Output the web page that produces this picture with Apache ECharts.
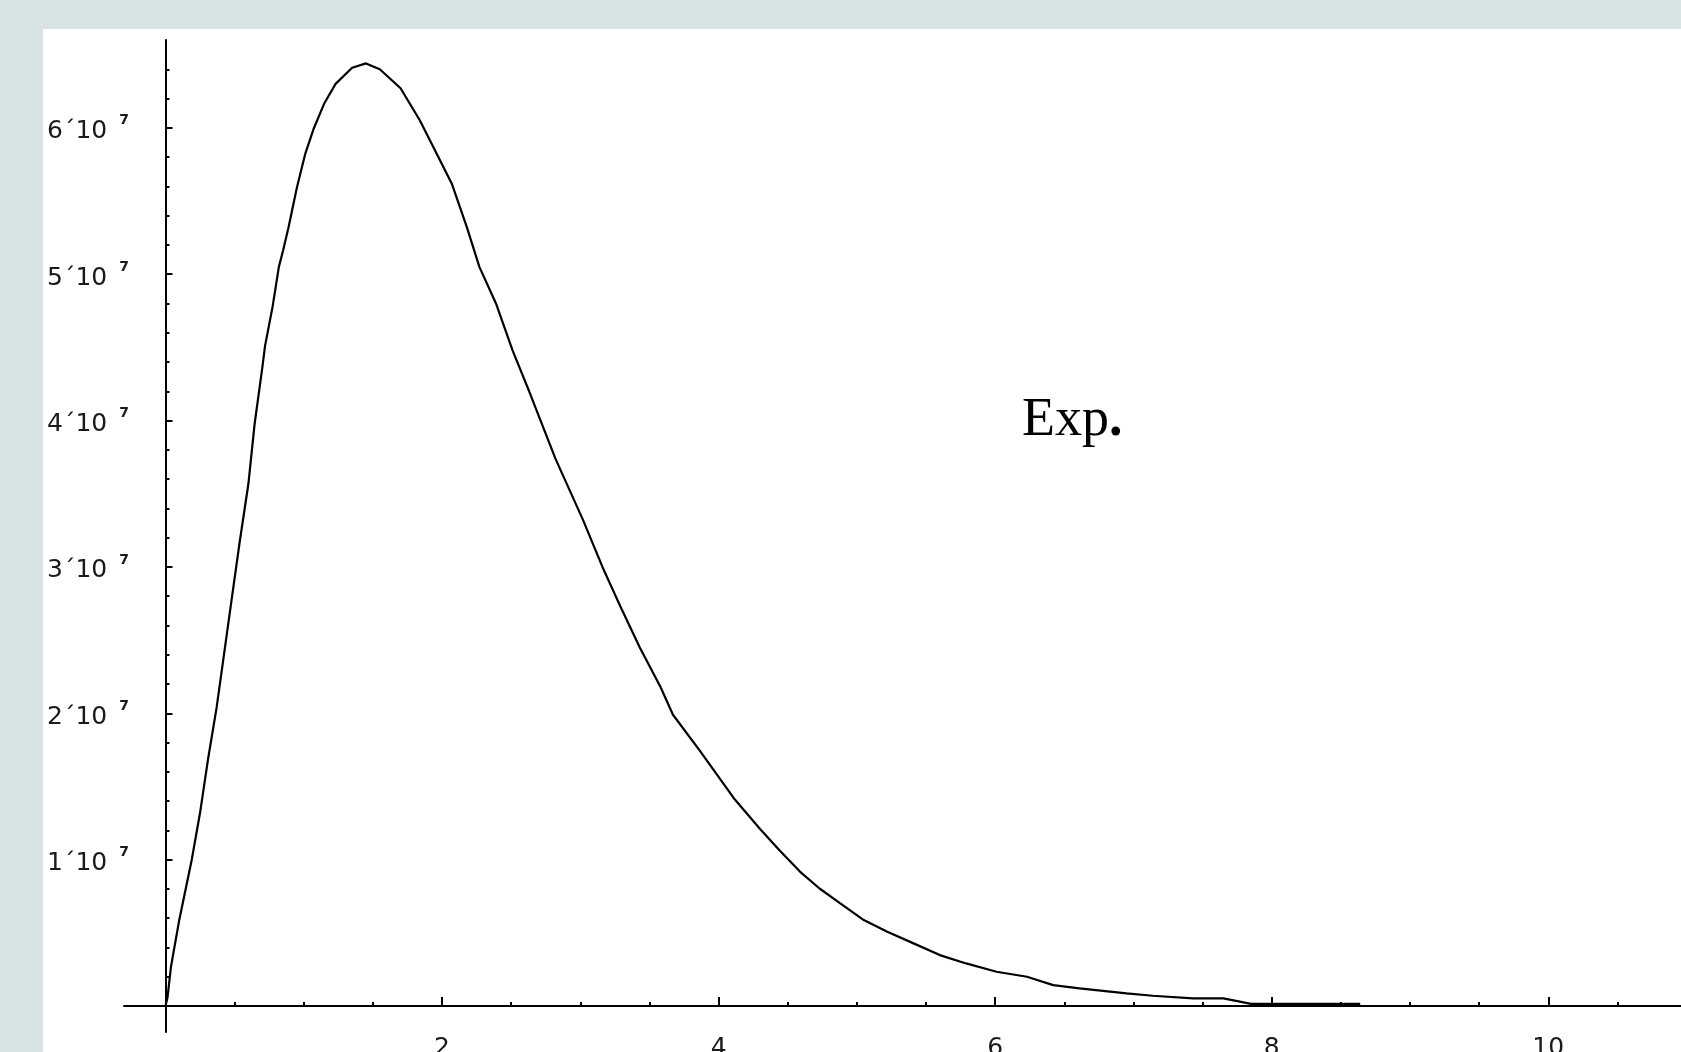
<!DOCTYPE html>
<html>
<head>
<meta charset="utf-8">
<script src="https://cdn.jsdelivr.net/npm/echarts@6/dist/echarts.min.js"></script>
<style>
  html, body { margin: 0; padding: 0; width: 1681px; height: 1052px; overflow: hidden; background: #d8e3e3; }
  #chart { position: absolute; left: 43px; top: 29px; width: 1638px; height: 1023px; background: #ffffff; }
</style>
</head>
<body>
<div id="chart"></div>
<script>
// x values of the curve
const xValues = [0, 0.015, 0.04, 0.10, 0.19, 0.25, 0.31, 0.37, 0.42, 0.47, 0.535, 0.60, 0.645, 0.70, 0.72, 0.775, 0.82, 0.85, 0.89, 0.95, 1.01, 1.07, 1.15, 1.23, 1.35, 1.45, 1.55, 1.70, 1.84, 2.07, 2.18, 2.27, 2.39, 2.51, 2.63, 2.82, 3.02, 3.16, 3.29, 3.43, 3.58, 3.67, 3.86, 4.11, 4.30, 4.44, 4.59, 4.73, 4.88, 5.05, 5.22, 5.41, 5.60, 5.79, 6.01, 6.23, 6.42, 6.61, 6.78, 6.95, 7.14, 7.43, 7.65, 7.77, 7.85, 8.64];
// y values in units of 10^7
const yValues = [0, 0.06, 0.27, 0.59, 1.00, 1.32, 1.70, 2.04, 2.38, 2.72, 3.16, 3.57, 3.98, 4.36, 4.51, 4.78, 5.05, 5.16, 5.32, 5.59, 5.82, 5.99, 6.17, 6.30, 6.41, 6.44, 6.40, 6.27, 6.05, 5.62, 5.32, 5.05, 4.80, 4.48, 4.20, 3.74, 3.32, 3.00, 2.73, 2.45, 2.18, 1.99, 1.75, 1.42, 1.21, 1.065, 0.917, 0.803, 0.701, 0.587, 0.507, 0.428, 0.348, 0.291, 0.234, 0.200, 0.143, 0.121, 0.104, 0.087, 0.070, 0.052, 0.052, 0.03, 0.015, 0.015];

const xMajorTicks = [2, 4, 6, 8, 10];
const xMinorTicks = [0.5, 1, 1.5, 2.5, 3, 3.5, 4.5, 5, 5.5, 6.5, 7, 7.5, 8.5, 9, 9.5, 10.5];
const yMajorTicks = [1, 2, 3, 4, 5, 6];
const yMinorTicks = [0.2, 0.4, 0.6, 0.8, 1.2, 1.4, 1.6, 1.8, 2.2, 2.4, 2.6, 2.8, 3.2, 3.4, 3.6, 3.8, 4.2, 4.4, 4.6, 4.8, 5.2, 5.4, 5.6, 5.8, 6.2, 6.4];
const yExponent = '7';
const annotationText = 'Exp';
const annotationDot = '.';

const X_MIN = -0.3, X_MAX = 10.96, Y_MIN = -0.1775, Y_MAX = 6.6;
const LABEL_FONT = 'DejaVu Sans';
const INK = '#000000';

const chart = echarts.init(document.getElementById('chart'), null, { renderer: 'canvas' });

function xAxisBase(extra) {
  return Object.assign({
    type: 'value', min: X_MIN, max: X_MAX, position: 'bottom',
    splitLine: { show: false }, minorTick: { show: false }
  }, extra);
}
function yAxisBase(extra) {
  return Object.assign({
    type: 'value', min: Y_MIN, max: Y_MAX, position: 'left',
    splitLine: { show: false }, minorTick: { show: false }
  }, extra);
}

chart.setOption({
  animation: false,
  grid: { left: 81, right: 0, top: 11, bottom: 20, containLabel: false, outerBoundsMode: 'none' },
  xAxis: [
    xAxisBase({
      axisLine: { show: true, onZero: true, lineStyle: { color: INK, width: 2 } },
      axisTick: { show: true, inside: true, length: 9, customValues: xMajorTicks, lineStyle: { color: INK, width: 2 } },
      axisLabel: { show: true, customValues: xMajorTicks, margin: 4, fontFamily: LABEL_FONT, fontSize: 25, color: '#1a1a1a' }
    }),
    xAxisBase({
      axisLine: { show: false, onZero: true },
      axisTick: { show: true, inside: true, length: 4, customValues: xMinorTicks, lineStyle: { color: INK, width: 2 } },
      axisLabel: { show: false }
    })
  ],
  yAxis: [
    yAxisBase({
      axisLine: { show: true, onZero: true, lineStyle: { color: INK, width: 2 } },
      axisTick: { show: true, inside: true, length: 7, customValues: yMajorTicks, lineStyle: { color: INK, width: 2 } },
      axisLabel: {
        show: true, customValues: yMajorTicks, margin: -5,
        formatter: function (v) { return '{n|' + v + '\u00b410}{s|' + yExponent + '}'; },
        rich: {
          n: { fontFamily: LABEL_FONT, fontSize: 25, color: '#1a1a1a', padding: [8, 0, 0, 0] },
          s: { fontFamily: LABEL_FONT, fontSize: 14, fontWeight: 'bold', color: '#1a1a1a', padding: [0, 0, 14, 12] }
        }
      }
    }),
    yAxisBase({
      axisLine: { show: false, onZero: true },
      axisTick: { show: true, inside: true, length: 4, customValues: yMinorTicks, lineStyle: { color: INK, width: 2 } },
      axisLabel: { show: false }
    })
  ],
  series: [{
    type: 'line',
    xAxisIndex: 0, yAxisIndex: 0,
    data: xValues.map(function (x, i) { return [x, yValues[i]]; }),
    showSymbol: false, symbol: 'none', smooth: false, silent: true,
    lineStyle: { color: INK, width: 2.2 }
  }],
  graphic: [{
    type: 'text', left: 979, top: 365, silent: true,
    style: {
      text: '{a|' + annotationText + '}{b|' + annotationDot + '}',
      rich: {
        a: { fontFamily: 'Liberation Serif', fontSize: 54, fill: '#000' },
        b: { fontFamily: 'Liberation Serif', fontSize: 54, fontWeight: 'bold', fill: '#000' }
      }
    }
  }]
});
</script>
</body>
</html>
